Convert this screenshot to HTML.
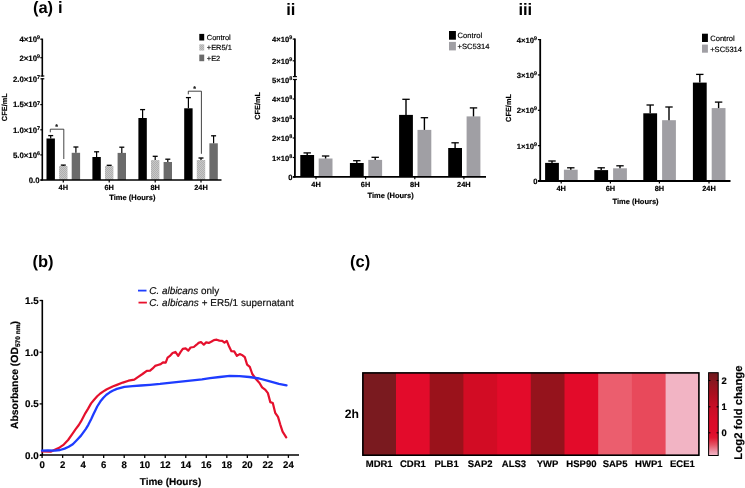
<!DOCTYPE html>
<html><head><meta charset="utf-8"><style>
html,body{margin:0;padding:0;background:#fff;overflow:hidden;}
svg{display:block;font-family:"Liberation Sans", sans-serif;text-rendering:geometricPrecision;will-change:transform;}
text{stroke:#000;stroke-width:0.18px;}
text.t{stroke-width:0;}
</style></head><body>
<svg width="745" height="488" viewBox="0 0 745 488">
<defs>
<pattern id="hatch" width="2" height="2" patternUnits="userSpaceOnUse">
<rect width="2" height="2" fill="#c8c8c8"/><rect width="1" height="1" fill="#afafaf"/><rect x="1" y="1" width="1" height="1" fill="#afafaf"/>
</pattern>
<linearGradient id="cbar" x1="0" y1="0" x2="0" y2="1">
<stop offset="0" stop-color="#6f1a1e"/>
<stop offset="0.094" stop-color="#861820"/>
<stop offset="0.245" stop-color="#a8101f"/>
<stop offset="0.40" stop-color="#c60e25"/>
<stop offset="0.57" stop-color="#d90c29"/>
<stop offset="0.73" stop-color="#e00c2b"/>
<stop offset="0.785" stop-color="#e11530"/>
<stop offset="0.873" stop-color="#e55566"/>
<stop offset="0.957" stop-color="#ee9cae"/>
<stop offset="1" stop-color="#f3b8c6"/>
</linearGradient>
</defs>
<rect width="745" height="488" fill="#fff"/>
<g opacity="0.999">
<text class="t" x="32.9" y="12.9" font-size="16.5" font-weight="bold" text-anchor="start" fill="#000" >(a)</text>
<text class="t" x="57.9" y="12.9" font-size="16.5" font-weight="bold" text-anchor="start" fill="#000" >i</text>
<line x1="42.3" y1="38.6" x2="42.3" y2="76.6" stroke="#000" stroke-width="1.6"/>
<line x1="40.3" y1="39.2" x2="42.3" y2="39.2" stroke="#000" stroke-width="1.2"/>
<line x1="40.3" y1="57.7" x2="42.3" y2="57.7" stroke="#000" stroke-width="1.2"/>
<rect x="40.5" y="75.4" width="3.8" height="1.2" fill="#000" />
<rect x="40.5" y="78.2" width="3.8" height="1.2" fill="#000" />
<line x1="42.3" y1="78.2" x2="42.3" y2="180.5" stroke="#000" stroke-width="1.6"/>
<line x1="40.3" y1="180.0" x2="42.3" y2="180.0" stroke="#000" stroke-width="1.2"/>
<line x1="40.3" y1="154.9" x2="42.3" y2="154.9" stroke="#000" stroke-width="1.2"/>
<line x1="40.3" y1="129.8" x2="42.3" y2="129.8" stroke="#000" stroke-width="1.2"/>
<line x1="40.3" y1="104.6" x2="42.3" y2="104.6" stroke="#000" stroke-width="1.2"/>
<text x="40.0" y="42.3" font-size="7.8" font-weight="bold" text-anchor="end">4×10<tspan dy="-2.9" font-size="5.4">9</tspan></text>
<text x="40.0" y="60.7" font-size="7.8" font-weight="bold" text-anchor="end">2×10<tspan dy="-2.9" font-size="5.4">9</tspan></text>
<text x="40.0" y="81.7" font-size="7.8" font-weight="bold" text-anchor="end">2.0×10<tspan dy="-2.9" font-size="5.4">7</tspan></text>
<text x="40.0" y="107.4" font-size="7.8" font-weight="bold" text-anchor="end">1.5×10<tspan dy="-2.9" font-size="5.4">7</tspan></text>
<text x="40.0" y="132.6" font-size="7.8" font-weight="bold" text-anchor="end">1.0×10<tspan dy="-2.9" font-size="5.4">7</tspan></text>
<text x="40.0" y="157.8" font-size="7.8" font-weight="bold" text-anchor="end">5.0×10<tspan dy="-2.9" font-size="5.4">6</tspan></text>
<text x="39.5" y="183.0" font-size="7.8" font-weight="bold" text-anchor="end" fill="#000" >0.0</text>
<line x1="63.3" y1="180.0" x2="63.3" y2="182.4" stroke="#000" stroke-width="1.2"/>
<text x="63.3" y="189.9" font-size="7.4" font-weight="bold" text-anchor="middle" fill="#000" >4H</text>
<line x1="109.2" y1="180.0" x2="109.2" y2="182.4" stroke="#000" stroke-width="1.2"/>
<text x="109.2" y="189.9" font-size="7.4" font-weight="bold" text-anchor="middle" fill="#000" >6H</text>
<line x1="155.2" y1="180.0" x2="155.2" y2="182.4" stroke="#000" stroke-width="1.2"/>
<text x="155.2" y="189.9" font-size="7.4" font-weight="bold" text-anchor="middle" fill="#000" >8H</text>
<line x1="201.0" y1="180.0" x2="201.0" y2="182.4" stroke="#000" stroke-width="1.2"/>
<text x="201.0" y="189.9" font-size="7.4" font-weight="bold" text-anchor="middle" fill="#000" >24H</text>
<text x="132.4" y="200.3" font-size="7.5" font-weight="bold" text-anchor="middle" fill="#000" >Time (Hours)</text>
<text x="0" y="0" font-size="7.4" font-weight="bold" text-anchor="middle" transform="translate(7.0,107.2) rotate(-90)">CFE/mL</text>
<rect x="46.5" y="138.5" width="8.4" height="41.5" fill="#000" />
<line x1="50.7" y1="138.5" x2="50.7" y2="135.6" stroke="#000" stroke-width="1.2"/>
<line x1="48.2" y1="135.6" x2="53.2" y2="135.6" stroke="#000" stroke-width="1.3"/>
<rect x="59.099999999999994" y="166.0" width="8.4" height="14.0" fill="url(#hatch)" />
<line x1="63.3" y1="166.0" x2="63.3" y2="165.1" stroke="#000" stroke-width="1.2"/>
<line x1="60.8" y1="165.1" x2="65.8" y2="165.1" stroke="#000" stroke-width="1.3"/>
<rect x="71.7" y="152.8" width="8.4" height="27.19999999999999" fill="#6b6b6b" />
<line x1="75.9" y1="152.8" x2="75.9" y2="147.0" stroke="#000" stroke-width="1.2"/>
<line x1="73.4" y1="147.0" x2="78.4" y2="147.0" stroke="#000" stroke-width="1.3"/>
<rect x="92.4" y="157.0" width="8.4" height="23.0" fill="#000" />
<line x1="96.60000000000001" y1="157.0" x2="96.60000000000001" y2="151.8" stroke="#000" stroke-width="1.2"/>
<line x1="94.10000000000001" y1="151.8" x2="99.10000000000001" y2="151.8" stroke="#000" stroke-width="1.3"/>
<rect x="105.0" y="166.0" width="8.4" height="14.0" fill="url(#hatch)" />
<line x1="109.2" y1="166.0" x2="109.2" y2="165.3" stroke="#000" stroke-width="1.2"/>
<line x1="106.7" y1="165.3" x2="111.7" y2="165.3" stroke="#000" stroke-width="1.3"/>
<rect x="117.60000000000001" y="152.9" width="8.4" height="27.099999999999994" fill="#6b6b6b" />
<line x1="121.80000000000001" y1="152.9" x2="121.80000000000001" y2="147.2" stroke="#000" stroke-width="1.2"/>
<line x1="119.30000000000001" y1="147.2" x2="124.30000000000001" y2="147.2" stroke="#000" stroke-width="1.3"/>
<rect x="138.39999999999998" y="118.0" width="8.4" height="62.0" fill="#000" />
<line x1="142.59999999999997" y1="118.0" x2="142.59999999999997" y2="109.6" stroke="#000" stroke-width="1.2"/>
<line x1="140.09999999999997" y1="109.6" x2="145.09999999999997" y2="109.6" stroke="#000" stroke-width="1.3"/>
<rect x="151.0" y="160.1" width="8.4" height="19.900000000000006" fill="url(#hatch)" />
<line x1="155.2" y1="160.1" x2="155.2" y2="156.3" stroke="#000" stroke-width="1.2"/>
<line x1="152.7" y1="156.3" x2="157.7" y2="156.3" stroke="#000" stroke-width="1.3"/>
<rect x="163.6" y="162.0" width="8.4" height="18.0" fill="#6b6b6b" />
<line x1="167.79999999999998" y1="162.0" x2="167.79999999999998" y2="159.2" stroke="#000" stroke-width="1.2"/>
<line x1="165.29999999999998" y1="159.2" x2="170.29999999999998" y2="159.2" stroke="#000" stroke-width="1.3"/>
<rect x="184.2" y="108.3" width="8.4" height="71.7" fill="#000" />
<line x1="188.39999999999998" y1="108.3" x2="188.39999999999998" y2="97.6" stroke="#000" stroke-width="1.2"/>
<line x1="185.89999999999998" y1="97.6" x2="190.89999999999998" y2="97.6" stroke="#000" stroke-width="1.3"/>
<rect x="196.8" y="160.0" width="8.4" height="20.0" fill="url(#hatch)" />
<line x1="201.0" y1="160.0" x2="201.0" y2="158.0" stroke="#000" stroke-width="1.2"/>
<line x1="198.5" y1="158.0" x2="203.5" y2="158.0" stroke="#000" stroke-width="1.3"/>
<rect x="209.4" y="143.3" width="8.4" height="36.69999999999999" fill="#6b6b6b" />
<line x1="213.6" y1="143.3" x2="213.6" y2="135.8" stroke="#000" stroke-width="1.2"/>
<line x1="211.1" y1="135.8" x2="216.1" y2="135.8" stroke="#000" stroke-width="1.3"/>
<line x1="40.5" y1="180.0" x2="221.5" y2="180.0" stroke="#000" stroke-width="1.6"/>
<polyline points="50.3,132.3 50.3,129.2 63.8,129.2 63.8,159" fill="none" stroke="#222" stroke-width="0.85"/>
<text x="56.6" y="129.2" font-size="7.0" font-weight="bold" text-anchor="middle" fill="#222" >*</text>
<polyline points="188.3,94.3 188.3,91.2 201.4,91.2 201.4,153.8" fill="none" stroke="#222" stroke-width="0.85"/>
<text x="194.6" y="90.6" font-size="7.0" font-weight="bold" text-anchor="middle" fill="#222" >*</text>
<rect x="199.3" y="33.9" width="4.9" height="6.6" fill="#000" />
<rect x="199.3" y="44.3" width="4.9" height="6.3" fill="url(#hatch)" />
<rect x="199.3" y="54.6" width="4.9" height="6.6" fill="#6b6b6b" />
<text x="206.8" y="40.0" font-size="7.45" font-weight="normal" text-anchor="start" fill="#000" >Control</text>
<text x="206.8" y="50.3" font-size="7.45" font-weight="normal" text-anchor="start" fill="#000" >+ER5/1</text>
<text x="206.8" y="60.6" font-size="7.45" font-weight="normal" text-anchor="start" fill="#000" >+E2</text>
<text class="t" x="286.2" y="15.0" font-size="16.5" font-weight="bold" text-anchor="start" fill="#000" >ii</text>
<line x1="294.9" y1="38.5" x2="294.9" y2="77.0" stroke="#000" stroke-width="1.8"/>
<line x1="292.7" y1="39.1" x2="294.9" y2="39.1" stroke="#000" stroke-width="1.2"/>
<line x1="292.7" y1="60.8" x2="294.9" y2="60.8" stroke="#000" stroke-width="1.2"/>
<rect x="292.9" y="76.0" width="4.0" height="1.2" fill="#000" />
<rect x="292.9" y="78.9" width="4.0" height="1.2" fill="#000" />
<line x1="294.9" y1="78.9" x2="294.9" y2="177.6" stroke="#000" stroke-width="1.8"/>
<line x1="292.7" y1="177.0" x2="294.9" y2="177.0" stroke="#000" stroke-width="1.2"/>
<line x1="292.7" y1="157.5" x2="294.9" y2="157.5" stroke="#000" stroke-width="1.2"/>
<line x1="292.7" y1="138.0" x2="294.9" y2="138.0" stroke="#000" stroke-width="1.2"/>
<line x1="292.7" y1="118.5" x2="294.9" y2="118.5" stroke="#000" stroke-width="1.2"/>
<line x1="292.7" y1="99.0" x2="294.9" y2="99.0" stroke="#000" stroke-width="1.2"/>
<text x="292.2" y="42.2" font-size="7.6" font-weight="bold" text-anchor="end">4×10<tspan dy="-2.9" font-size="5.4">9</tspan></text>
<text x="292.2" y="63.9" font-size="7.6" font-weight="bold" text-anchor="end">2×10<tspan dy="-2.9" font-size="5.4">9</tspan></text>
<text x="292.2" y="82.6" font-size="7.6" font-weight="bold" text-anchor="end">5×10<tspan dy="-2.9" font-size="5.4">8</tspan></text>
<text x="292.2" y="160.5" font-size="7.6" font-weight="bold" text-anchor="end">1×10<tspan dy="-2.9" font-size="5.4">8</tspan></text>
<text x="292.2" y="141.0" font-size="7.6" font-weight="bold" text-anchor="end">2×10<tspan dy="-2.9" font-size="5.4">8</tspan></text>
<text x="292.2" y="121.5" font-size="7.6" font-weight="bold" text-anchor="end">3×10<tspan dy="-2.9" font-size="5.4">8</tspan></text>
<text x="292.2" y="102.0" font-size="7.6" font-weight="bold" text-anchor="end">4×10<tspan dy="-2.9" font-size="5.4">8</tspan></text>
<text x="292.6" y="179.8" font-size="7.6" font-weight="bold" text-anchor="end" fill="#000" >0</text>
<line x1="316.0" y1="176.8" x2="316.0" y2="179.3" stroke="#000" stroke-width="1.2"/>
<text x="316.0" y="186.9" font-size="7.4" font-weight="bold" text-anchor="middle" fill="#000" >4H</text>
<line x1="365.6" y1="176.8" x2="365.6" y2="179.3" stroke="#000" stroke-width="1.2"/>
<text x="365.6" y="186.9" font-size="7.4" font-weight="bold" text-anchor="middle" fill="#000" >6H</text>
<line x1="414.8" y1="176.8" x2="414.8" y2="179.3" stroke="#000" stroke-width="1.2"/>
<text x="414.8" y="186.9" font-size="7.4" font-weight="bold" text-anchor="middle" fill="#000" >8H</text>
<line x1="463.9" y1="176.8" x2="463.9" y2="179.3" stroke="#000" stroke-width="1.2"/>
<text x="463.9" y="186.9" font-size="7.4" font-weight="bold" text-anchor="middle" fill="#000" >24H</text>
<text x="390.6" y="197.9" font-size="7.5" font-weight="bold" text-anchor="middle" fill="#000" >Time (Hours)</text>
<text x="0" y="0" font-size="7.4" font-weight="bold" text-anchor="middle" transform="translate(260.3,105.9) rotate(-90)">CFE/mL</text>
<rect x="300.3" y="155.0" width="13.8" height="21.80000000000001" fill="#000" />
<line x1="307.2" y1="155.0" x2="307.2" y2="152.9" stroke="#000" stroke-width="1.4"/>
<line x1="303.5" y1="152.9" x2="310.9" y2="152.9" stroke="#000" stroke-width="1.3"/>
<rect x="318.7" y="158.5" width="13.8" height="18.30000000000001" fill="#a09fa4" />
<line x1="325.59999999999997" y1="158.5" x2="325.59999999999997" y2="156.0" stroke="#000" stroke-width="1.4"/>
<line x1="321.9" y1="156.0" x2="329.29999999999995" y2="156.0" stroke="#000" stroke-width="1.3"/>
<rect x="349.90000000000003" y="163.0" width="13.8" height="13.800000000000011" fill="#000" />
<line x1="356.8" y1="163.0" x2="356.8" y2="160.7" stroke="#000" stroke-width="1.4"/>
<line x1="353.1" y1="160.7" x2="360.5" y2="160.7" stroke="#000" stroke-width="1.3"/>
<rect x="368.3" y="159.9" width="13.8" height="16.900000000000006" fill="#a09fa4" />
<line x1="375.2" y1="159.9" x2="375.2" y2="157.3" stroke="#000" stroke-width="1.4"/>
<line x1="371.5" y1="157.3" x2="378.9" y2="157.3" stroke="#000" stroke-width="1.3"/>
<rect x="399.1" y="114.9" width="13.8" height="61.900000000000006" fill="#000" />
<line x1="406.0" y1="114.9" x2="406.0" y2="99.3" stroke="#000" stroke-width="1.4"/>
<line x1="402.3" y1="99.3" x2="409.7" y2="99.3" stroke="#000" stroke-width="1.3"/>
<rect x="417.5" y="129.9" width="13.8" height="46.900000000000006" fill="#a09fa4" />
<line x1="424.4" y1="129.9" x2="424.4" y2="117.7" stroke="#000" stroke-width="1.4"/>
<line x1="420.7" y1="117.7" x2="428.09999999999997" y2="117.7" stroke="#000" stroke-width="1.3"/>
<rect x="448.2" y="148.0" width="13.8" height="28.80000000000001" fill="#000" />
<line x1="455.09999999999997" y1="148.0" x2="455.09999999999997" y2="142.8" stroke="#000" stroke-width="1.4"/>
<line x1="451.4" y1="142.8" x2="458.79999999999995" y2="142.8" stroke="#000" stroke-width="1.3"/>
<rect x="466.59999999999997" y="116.4" width="13.8" height="60.400000000000006" fill="#a09fa4" />
<line x1="473.49999999999994" y1="116.4" x2="473.49999999999994" y2="107.9" stroke="#000" stroke-width="1.4"/>
<line x1="469.79999999999995" y1="107.9" x2="477.19999999999993" y2="107.9" stroke="#000" stroke-width="1.3"/>
<line x1="293.0" y1="176.8" x2="486.0" y2="176.8" stroke="#000" stroke-width="1.8"/>
<rect x="449.0" y="31.0" width="6.9" height="8.7" fill="#000" />
<rect x="449.0" y="41.9" width="6.9" height="8.5" fill="#a09fa4" />
<text x="457.6" y="37.9" font-size="7.6" font-weight="normal" text-anchor="start" fill="#000" >Control</text>
<text x="457.6" y="48.8" font-size="7.6" font-weight="normal" text-anchor="start" fill="#000" >+SC5314</text>
<text class="t" x="518.4" y="14.8" font-size="16.5" font-weight="bold" text-anchor="start" fill="#000" >iii</text>
<line x1="540.2" y1="39.0" x2="540.2" y2="181.8" stroke="#000" stroke-width="1.8"/>
<line x1="537.9" y1="181.0" x2="540.2" y2="181.0" stroke="#000" stroke-width="1.2"/>
<line x1="537.9" y1="145.65" x2="540.2" y2="145.65" stroke="#000" stroke-width="1.2"/>
<line x1="537.9" y1="110.3" x2="540.2" y2="110.3" stroke="#000" stroke-width="1.2"/>
<line x1="537.9" y1="74.94999999999999" x2="540.2" y2="74.94999999999999" stroke="#000" stroke-width="1.2"/>
<line x1="537.9" y1="39.599999999999994" x2="540.2" y2="39.599999999999994" stroke="#000" stroke-width="1.2"/>
<text x="537.0" y="148.65" font-size="7.7" font-weight="bold" text-anchor="end">1×10<tspan dy="-2.9" font-size="5.4">9</tspan></text>
<text x="537.0" y="113.3" font-size="7.7" font-weight="bold" text-anchor="end">2×10<tspan dy="-2.9" font-size="5.4">9</tspan></text>
<text x="537.0" y="77.94999999999999" font-size="7.7" font-weight="bold" text-anchor="end">3×10<tspan dy="-2.9" font-size="5.4">9</tspan></text>
<text x="537.0" y="42.599999999999994" font-size="7.7" font-weight="bold" text-anchor="end">4×10<tspan dy="-2.9" font-size="5.4">9</tspan></text>
<text x="537.6" y="184.0" font-size="7.6" font-weight="bold" text-anchor="end" fill="#000" >0</text>
<line x1="561.2" y1="181.0" x2="561.2" y2="183.4" stroke="#000" stroke-width="1.2"/>
<text x="561.2" y="190.9" font-size="7.4" font-weight="bold" text-anchor="middle" fill="#000" >4H</text>
<line x1="610.4" y1="181.0" x2="610.4" y2="183.4" stroke="#000" stroke-width="1.2"/>
<text x="610.4" y="190.9" font-size="7.4" font-weight="bold" text-anchor="middle" fill="#000" >6H</text>
<line x1="659.4" y1="181.0" x2="659.4" y2="183.4" stroke="#000" stroke-width="1.2"/>
<text x="659.4" y="190.9" font-size="7.4" font-weight="bold" text-anchor="middle" fill="#000" >8H</text>
<line x1="709.0" y1="181.0" x2="709.0" y2="183.4" stroke="#000" stroke-width="1.2"/>
<text x="709.0" y="190.9" font-size="7.4" font-weight="bold" text-anchor="middle" fill="#000" >24H</text>
<text x="635.5" y="203.5" font-size="7.5" font-weight="bold" text-anchor="middle" fill="#000" >Time (Hours)</text>
<text x="0" y="0" font-size="7.4" font-weight="bold" text-anchor="middle" transform="translate(511.2,108) rotate(-90)">CFE/mL</text>
<rect x="545.1" y="162.9" width="13.8" height="18.099999999999994" fill="#000" />
<line x1="552.0" y1="162.9" x2="552.0" y2="161.0" stroke="#000" stroke-width="1.4"/>
<line x1="548.3" y1="161.0" x2="555.7" y2="161.0" stroke="#000" stroke-width="1.3"/>
<rect x="563.9000000000001" y="169.7" width="13.8" height="11.300000000000011" fill="#a09fa4" />
<line x1="570.8000000000001" y1="169.7" x2="570.8000000000001" y2="167.8" stroke="#000" stroke-width="1.4"/>
<line x1="567.1" y1="167.8" x2="574.5000000000001" y2="167.8" stroke="#000" stroke-width="1.3"/>
<rect x="594.3" y="170.1" width="13.8" height="10.900000000000006" fill="#000" />
<line x1="601.1999999999999" y1="170.1" x2="601.1999999999999" y2="167.8" stroke="#000" stroke-width="1.4"/>
<line x1="597.4999999999999" y1="167.8" x2="604.9" y2="167.8" stroke="#000" stroke-width="1.3"/>
<rect x="613.1" y="168.3" width="13.8" height="12.699999999999989" fill="#a09fa4" />
<line x1="620.0" y1="168.3" x2="620.0" y2="165.8" stroke="#000" stroke-width="1.4"/>
<line x1="616.3" y1="165.8" x2="623.7" y2="165.8" stroke="#000" stroke-width="1.3"/>
<rect x="643.3" y="113.3" width="13.8" height="67.7" fill="#000" />
<line x1="650.1999999999999" y1="113.3" x2="650.1999999999999" y2="105.0" stroke="#000" stroke-width="1.4"/>
<line x1="646.4999999999999" y1="105.0" x2="653.9" y2="105.0" stroke="#000" stroke-width="1.3"/>
<rect x="662.1" y="120.2" width="13.8" height="60.8" fill="#a09fa4" />
<line x1="669.0" y1="120.2" x2="669.0" y2="107.0" stroke="#000" stroke-width="1.4"/>
<line x1="665.3" y1="107.0" x2="672.7" y2="107.0" stroke="#000" stroke-width="1.3"/>
<rect x="692.9" y="82.6" width="13.8" height="98.4" fill="#000" />
<line x1="699.8" y1="82.6" x2="699.8" y2="74.4" stroke="#000" stroke-width="1.4"/>
<line x1="696.0999999999999" y1="74.4" x2="703.5" y2="74.4" stroke="#000" stroke-width="1.3"/>
<rect x="711.7" y="108.1" width="13.8" height="72.9" fill="#a09fa4" />
<line x1="718.6" y1="108.1" x2="718.6" y2="102.1" stroke="#000" stroke-width="1.4"/>
<line x1="714.9" y1="102.1" x2="722.3000000000001" y2="102.1" stroke="#000" stroke-width="1.3"/>
<line x1="538.0" y1="181.0" x2="730.5" y2="181.0" stroke="#000" stroke-width="1.8"/>
<rect x="702.0" y="33.7" width="5.9" height="8.3" fill="#000" />
<rect x="702.0" y="44.6" width="5.9" height="8.1" fill="#a09fa4" />
<text x="710.2" y="40.7" font-size="7.6" font-weight="normal" text-anchor="start" fill="#000" >Control</text>
<text x="710.2" y="51.6" font-size="7.6" font-weight="normal" text-anchor="start" fill="#000" >+SC5314</text>
<text class="t" x="32.4" y="267.2" font-size="16.5" font-weight="bold" text-anchor="start" fill="#000" >(b)</text>
<line x1="42.3" y1="299.9" x2="42.3" y2="455.5" stroke="#000" stroke-width="1.6"/>
<line x1="39.6" y1="300.5" x2="42.3" y2="300.5" stroke="#000" stroke-width="1.3"/>
<text x="38.6" y="304.0" font-size="9.8" font-weight="bold" text-anchor="end" fill="#000" >1.5</text>
<line x1="39.6" y1="352.2" x2="42.3" y2="352.2" stroke="#000" stroke-width="1.3"/>
<text x="38.6" y="355.7" font-size="9.8" font-weight="bold" text-anchor="end" fill="#000" >1.0</text>
<line x1="39.6" y1="403.9" x2="42.3" y2="403.9" stroke="#000" stroke-width="1.3"/>
<text x="38.6" y="407.4" font-size="9.8" font-weight="bold" text-anchor="end" fill="#000" >0.5</text>
<line x1="39.6" y1="455.3" x2="42.3" y2="455.3" stroke="#000" stroke-width="1.3"/>
<text x="38.6" y="458.8" font-size="9.8" font-weight="bold" text-anchor="end" fill="#000" >0.0</text>
<line x1="40.0" y1="455.0" x2="299.0" y2="455.0" stroke="#000" stroke-width="1.6"/>
<line x1="42.1" y1="455.0" x2="42.1" y2="457.9" stroke="#000" stroke-width="1.3"/>
<text x="42.1" y="467.6" font-size="9.6" font-weight="bold" text-anchor="middle" fill="#000" >0</text>
<line x1="62.625" y1="455.0" x2="62.625" y2="457.9" stroke="#000" stroke-width="1.3"/>
<text x="62.625" y="467.6" font-size="9.6" font-weight="bold" text-anchor="middle" fill="#000" >2</text>
<line x1="83.15" y1="455.0" x2="83.15" y2="457.9" stroke="#000" stroke-width="1.3"/>
<text x="83.15" y="467.6" font-size="9.6" font-weight="bold" text-anchor="middle" fill="#000" >4</text>
<line x1="103.675" y1="455.0" x2="103.675" y2="457.9" stroke="#000" stroke-width="1.3"/>
<text x="103.675" y="467.6" font-size="9.6" font-weight="bold" text-anchor="middle" fill="#000" >6</text>
<line x1="124.19999999999999" y1="455.0" x2="124.19999999999999" y2="457.9" stroke="#000" stroke-width="1.3"/>
<text x="124.19999999999999" y="467.6" font-size="9.6" font-weight="bold" text-anchor="middle" fill="#000" >8</text>
<line x1="144.725" y1="455.0" x2="144.725" y2="457.9" stroke="#000" stroke-width="1.3"/>
<text x="144.725" y="467.6" font-size="9.6" font-weight="bold" text-anchor="middle" fill="#000" >10</text>
<line x1="165.25" y1="455.0" x2="165.25" y2="457.9" stroke="#000" stroke-width="1.3"/>
<text x="165.25" y="467.6" font-size="9.6" font-weight="bold" text-anchor="middle" fill="#000" >12</text>
<line x1="185.77499999999998" y1="455.0" x2="185.77499999999998" y2="457.9" stroke="#000" stroke-width="1.3"/>
<text x="185.77499999999998" y="467.6" font-size="9.6" font-weight="bold" text-anchor="middle" fill="#000" >14</text>
<line x1="206.29999999999998" y1="455.0" x2="206.29999999999998" y2="457.9" stroke="#000" stroke-width="1.3"/>
<text x="206.29999999999998" y="467.6" font-size="9.6" font-weight="bold" text-anchor="middle" fill="#000" >16</text>
<line x1="226.825" y1="455.0" x2="226.825" y2="457.9" stroke="#000" stroke-width="1.3"/>
<text x="226.825" y="467.6" font-size="9.6" font-weight="bold" text-anchor="middle" fill="#000" >18</text>
<line x1="247.35" y1="455.0" x2="247.35" y2="457.9" stroke="#000" stroke-width="1.3"/>
<text x="247.35" y="467.6" font-size="9.6" font-weight="bold" text-anchor="middle" fill="#000" >20</text>
<line x1="267.875" y1="455.0" x2="267.875" y2="457.9" stroke="#000" stroke-width="1.3"/>
<text x="267.875" y="467.6" font-size="9.6" font-weight="bold" text-anchor="middle" fill="#000" >22</text>
<line x1="288.4" y1="455.0" x2="288.4" y2="457.9" stroke="#000" stroke-width="1.3"/>
<text x="288.4" y="467.6" font-size="9.6" font-weight="bold" text-anchor="middle" fill="#000" >24</text>
<text x="170.5" y="484.6" font-size="10.0" font-weight="bold" text-anchor="middle" fill="#000" >Time (Hours)</text>
<text x="0" y="0" font-size="10.4" font-weight="bold" text-anchor="middle" transform="translate(17.6,375.0) rotate(-90)">Absorbance (OD<tspan font-size="6.6" dy="2.4" stroke="#000" stroke-width="0.25">570 nm</tspan><tspan dy="-2.4">)</tspan></text>
<polyline points="42,451.5 50.7,451.7 54.8,449.8 59.7,447.4 63.8,444.6 68.1,440.0 72.4,433.8 75.5,429.3 78.8,425.0 81.0,421.4 85.4,413.1 88.0,408.9 91.1,403.4 94.1,399.7 97.2,396.3 100.3,393.5 103.4,391.4 106.4,389.5 109.5,388.0 112.6,386.5 116.9,384.9 122.8,382.6 128.5,380.7 134.3,379.6 137.5,377.3 142.5,374 146.8,370.8 150.1,370.6 152.4,368.7 155.1,365.9 157.9,365 160.7,364.1 163,362.3 165.7,362.7 167.6,357.6 170.3,355.6 172.6,353 175.4,351.9 178.2,355.8 180.5,352.1 182.8,348.9 185.6,348.4 188.3,350.7 190.6,347.5 193.8,347 196.6,344.7 198.6,342.9 201,342 203.8,344.7 206.1,342.4 208.8,342.9 211.6,341.5 213.9,340.1 216.7,339.7 219.4,340.6 222.2,340.9 224.5,342.7 226.8,340.9 229.1,346.6 231.4,351.2 234.2,351.4 236.9,355.8 239.7,354.1 242.5,355.3 244.8,357.2 247.1,364.6 249.8,366.9 252.3,374 255.9,379 259.5,383 262.1,387.4 265.4,389.8 267.9,393.1 270.3,402.1 272.8,403 275.2,412.8 278,416.9 280.2,424.3 282.6,431.6 286.2,437.4" fill="none" stroke="#e5102d" stroke-width="2.2" stroke-linejoin="round" stroke-linecap="round"/>
<polyline points="42,450.6 48,450.4 55,450.6 60,450.0 64.6,448.6 68.7,446.8 72.8,444.2 76.7,440.2 81,435.6 85.9,428.8 88.3,424.8 89.6,422.2 91.5,418.5 93.3,414.6 95.4,410.2 97.2,406.5 100.3,401.6 103.4,397.8 106.4,394.8 109.5,392.6 112.6,390.8 116.9,388.9 124.4,386.9 132.6,386.1 140.8,385.5 150,384.8 160,383.9 169.2,382.8 185.6,381.1 202,379.3 210,378.2 219.8,377 229.7,375.9 239.5,376.1 249.3,377 259.2,378.5 269,381.1 278.9,383.9 286.5,385.4" fill="none" stroke="#1e3cff" stroke-width="2.3" stroke-linejoin="round" stroke-linecap="round"/>
<line x1="138.0" y1="290.6" x2="146.5" y2="290.6" stroke="#1f3fff" stroke-width="1.8"/>
<line x1="138.5" y1="302.6" x2="146.9" y2="302.6" stroke="#e8112d" stroke-width="1.8"/>
<text x="149.3" y="294.2" font-size="9.9" fill="#111" textLength="69.8" lengthAdjust="spacing"><tspan font-style="italic">C. albicans</tspan> only</text>
<text x="149.3" y="306.1" font-size="9.9" fill="#111" textLength="144.4" lengthAdjust="spacing"><tspan font-style="italic">C. albicans</tspan> + ER5/1 supernatant</text>
<text class="t" x="350.0" y="267.3" font-size="16.5" font-weight="bold" text-anchor="start" fill="#000" >(c)</text>
<rect x="362.3" y="372.9" width="34.7" height="82.3" fill="#7a1a1f" />
<text x="379.2" y="467.2" font-size="9.5" font-weight="bold" text-anchor="middle" fill="#000" >MDR1</text>
<rect x="396.0" y="372.9" width="34.7" height="82.3" fill="#e30b2b" />
<text x="412.9" y="467.2" font-size="9.5" font-weight="bold" text-anchor="middle" fill="#000" >CDR1</text>
<rect x="429.7" y="372.9" width="34.7" height="82.3" fill="#9a121b" />
<text x="446.6" y="467.2" font-size="9.5" font-weight="bold" text-anchor="middle" fill="#000" >PLB1</text>
<rect x="463.4" y="372.9" width="34.7" height="82.3" fill="#d20c24" />
<text x="480.2" y="467.2" font-size="9.5" font-weight="bold" text-anchor="middle" fill="#000" >SAP2</text>
<rect x="497.1" y="372.9" width="34.7" height="82.3" fill="#e30b2a" />
<text x="514.0" y="467.2" font-size="9.5" font-weight="bold" text-anchor="middle" fill="#000" >ALS3</text>
<rect x="530.8" y="372.9" width="34.7" height="82.3" fill="#95131c" />
<text x="547.6" y="467.2" font-size="9.5" font-weight="bold" text-anchor="middle" fill="#000" >YWP</text>
<rect x="564.5" y="372.9" width="34.7" height="82.3" fill="#e30b2a" />
<text x="581.4" y="467.2" font-size="9.5" font-weight="bold" text-anchor="middle" fill="#000" >HSP90</text>
<rect x="598.2" y="372.9" width="34.7" height="82.3" fill="#eb5e6e" />
<text x="615.1" y="467.2" font-size="9.5" font-weight="bold" text-anchor="middle" fill="#000" >SAP5</text>
<rect x="631.9" y="372.9" width="34.7" height="82.3" fill="#e8495b" />
<text x="648.8" y="467.2" font-size="9.5" font-weight="bold" text-anchor="middle" fill="#000" >HWP1</text>
<rect x="665.6" y="372.9" width="33.7" height="82.3" fill="#f2b4c4" />
<text x="682.4" y="467.2" font-size="9.5" font-weight="bold" text-anchor="middle" fill="#000" >ECE1</text>
<rect x="362.9" y="372.9" width="336.0" height="82.3" fill="none" stroke="#000" stroke-width="1.6"/>
<text class="t" x="358.9" y="418.2" font-size="12.2" font-weight="bold" text-anchor="end" fill="#000" >2h</text>
<rect x="708.6" y="372.7" width="9.6" height="82.8" fill="url(#cbar)" stroke="#000" stroke-width="1"/>
<line x1="716.6" y1="380.5" x2="718.4" y2="380.5" stroke="#000" stroke-width="1.1"/>
<line x1="708.6" y1="380.5" x2="710.4" y2="380.5" stroke="#000" stroke-width="1.1"/>
<text x="721.6" y="383.9" font-size="9.4" font-weight="bold" text-anchor="start" fill="#000" >2</text>
<line x1="716.6" y1="406.8" x2="718.4" y2="406.8" stroke="#000" stroke-width="1.1"/>
<line x1="708.6" y1="406.8" x2="710.4" y2="406.8" stroke="#000" stroke-width="1.1"/>
<text x="721.6" y="410.2" font-size="9.4" font-weight="bold" text-anchor="start" fill="#000" >1</text>
<line x1="716.6" y1="432.8" x2="718.4" y2="432.8" stroke="#000" stroke-width="1.1"/>
<line x1="708.6" y1="432.8" x2="710.4" y2="432.8" stroke="#000" stroke-width="1.1"/>
<text x="721.6" y="436.2" font-size="9.4" font-weight="bold" text-anchor="start" fill="#000" >0</text>
<text x="0" y="0" font-size="11.2" font-weight="bold" text-anchor="middle" textLength="94.2" lengthAdjust="spacing" transform="translate(741.6,412.6) rotate(-90)">Log2 fold change</text>
</g>
</svg>
</body></html>
